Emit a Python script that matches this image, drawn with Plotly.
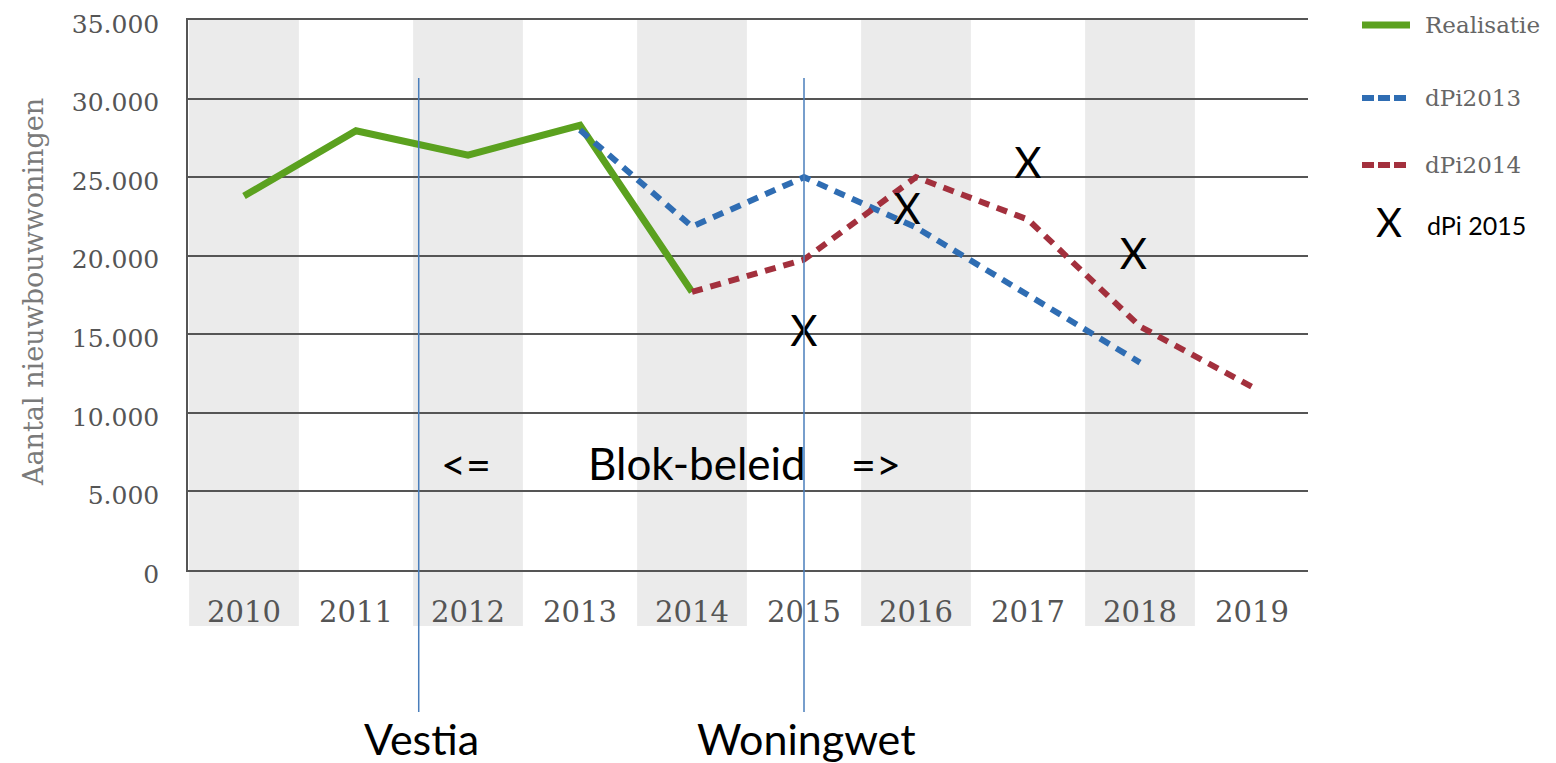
import plotly.graph_objects as go

years = [2010, 2011, 2012, 2013, 2014, 2015, 2016, 2017, 2018, 2019]
year_labels = [str(y) for y in years]

real_x = [2010, 2011, 2012, 2013, 2014]
real_y = [23800, 27950, 26400, 28300, 17700]

dpi2013_x = [2013, 2014, 2015, 2016, 2017, 2018]
dpi2013_y = [28000, 21850, 25000, 21800, 17500, 13200]

dpi2014_x = [2014, 2015, 2016, 2017, 2018, 2019]
dpi2014_y = [17700, 19750, 25000, 22300, 15500, 11650]

dpi2015_x = [2015, 2015.92, 2017, 2017.94]
dpi2015_y = [14900, 22700, 25600, 19850]

y_ticks = [0, 5000, 10000, 15000, 20000, 25000, 30000, 35000]
y_ticktext = ["0", "5.000", "10.000", "15.000", "20.000", "25.000", "30.000", "35.000"]

GREEN = "#5ba11f"
BLUE = "#2f6db3"
RED = "#a3303d"
GRID = "#555555"
TXT = "#555555"

fig = go.Figure()
fig.add_trace(go.Scatter(x=real_x, y=real_y, mode="lines",
                         line=dict(color=GREEN, width=7), showlegend=False))
fig.add_trace(go.Scatter(x=dpi2013_x, y=dpi2013_y, mode="lines",
                         line=dict(color=BLUE, width=6, dash="11px,8px"), showlegend=False))
fig.add_trace(go.Scatter(x=dpi2014_x, y=dpi2014_y, mode="lines",
                         line=dict(color=RED, width=6, dash="11px,8px"), showlegend=False))
fig.add_trace(go.Scatter(x=dpi2015_x, y=dpi2015_y, mode="text", text=["X"] * len(dpi2015_x),
                         textposition="middle center", cliponaxis=False,
                         textfont=dict(family="Lato", size=42, color="black"), showlegend=False))

shapes = []
# alternating grey column bands (even years)
for y in years:
    if y % 2 == 0:
        shapes.append(dict(type="rect", xref="x", yref="paper", x0=y - 0.49, x1=y + 0.49,
                           y0=-0.102, y1=1, fillcolor="#ebebeb", line=dict(width=0), layer="below"))
# vertical event lines
for xv in [2011.56, 2015.0]:
    shapes.append(dict(type="line", xref="x", yref="paper", x0=xv, x1=xv, y0=-0.258, y1=0.8945,
                       line=dict(color="#4a7ebb", width=1.5), layer="above"))

# manual legend samples (positions relative to the plot area)
def px_x(p):
    return (p - 188) / 1120.0

def px_y(p):
    return (570 - p) / 550.0

shapes.append(dict(type="line", xref="paper", yref="paper", x0=px_x(1362), x1=px_x(1410),
                   y0=px_y(25), y1=px_y(25), line=dict(color=GREEN, width=7)))
shapes.append(dict(type="line", xref="paper", yref="paper", x0=px_x(1362), x1=px_x(1410),
                   y0=px_y(98), y1=px_y(98), line=dict(color=BLUE, width=6, dash="12px,4px")))
shapes.append(dict(type="line", xref="paper", yref="paper", x0=px_x(1362), x1=px_x(1410),
                   y0=px_y(165), y1=px_y(165), line=dict(color=RED, width=6, dash="12px,4px")))

annotations = []
legend_font = dict(family="DejaVu Serif", size=23, color="#666666")
for name, py in [("Realisatie", 25), ("dPi2013", 98), ("dPi2014", 165)]:
    annotations.append(dict(xref="paper", yref="paper", x=px_x(1423), y=px_y(py), text=name,
                            showarrow=False, xanchor="left", yanchor="middle", font=legend_font))
annotations.append(dict(xref="paper", yref="paper", x=px_x(1389), y=px_y(222), text="X",
                        showarrow=False, xanchor="center", yanchor="middle",
                        font=dict(family="Lato", size=40, color="black")))
annotations.append(dict(xref="paper", yref="paper", x=px_x(1425), y=px_y(225), text="dPi 2015",
                        showarrow=False, xanchor="left", yanchor="middle",
                        font=dict(family="Lato", size=25, color="black")))

big = dict(family="Lato", size=43, color="black")
annotations += [
    dict(xref="paper", yref="paper", x=px_x(466), y=px_y(463), text="<=", showarrow=False,
         xanchor="center", yanchor="middle", font=big),
    dict(xref="paper", yref="paper", x=px_x(697), y=px_y(463), text="Blok-beleid", showarrow=False,
         xanchor="center", yanchor="middle", font=dict(family="Lato", size=44, color="black")),
    dict(xref="paper", yref="paper", x=px_x(876), y=px_y(463), text="=>", showarrow=False,
         xanchor="center", yanchor="middle", font=big),
    dict(xref="paper", yref="paper", x=px_x(421), y=px_y(738), text="Vestia", showarrow=False,
         xanchor="center", yanchor="middle", font=big),
    dict(xref="paper", yref="paper", x=px_x(806), y=px_y(738), text="Woningwet", showarrow=False,
         xanchor="center", yanchor="middle", font=big),
    dict(xref="paper", yref="paper", x=px_x(33), y=px_y(292), text="Aantal nieuwbouwwoningen",
         showarrow=False, textangle=-90, xanchor="center", yanchor="middle",
         font=dict(family="DejaVu Serif", size=27, color="#7a7a7a")),
]

fig.update_layout(
    width=1548, height=755,
    margin=dict(l=180, r=248, t=12, b=193, autoexpand=False),
    paper_bgcolor="white", plot_bgcolor="rgba(0,0,0,0)",
    shapes=shapes, annotations=annotations, showlegend=False,
    xaxis=dict(range=[2009.5, 2019.5], tickvals=years, ticktext=year_labels,
               showgrid=False, zeroline=False, showline=True, mirror=True,
               linecolor=GRID, linewidth=1.5, ticks="", automargin=False,
               ticklabelstandoff=15,
               tickfont=dict(family="DejaVu Serif", size=29, color=TXT)),
    yaxis=dict(range=[0, 35000], tickvals=y_ticks, ticktext=y_ticktext,
               showgrid=True, gridcolor=GRID, gridwidth=1.5, zeroline=False,
               showline=True, linecolor=GRID, linewidth=1.5, ticks="", automargin=False,
               ticklabelstandoff=22, ticklabeloverflow="allow", ticklabelshift=4,
               tickfont=dict(family="DejaVu Serif", size=25, color=TXT)),
)

fig.write_html("out.html")
